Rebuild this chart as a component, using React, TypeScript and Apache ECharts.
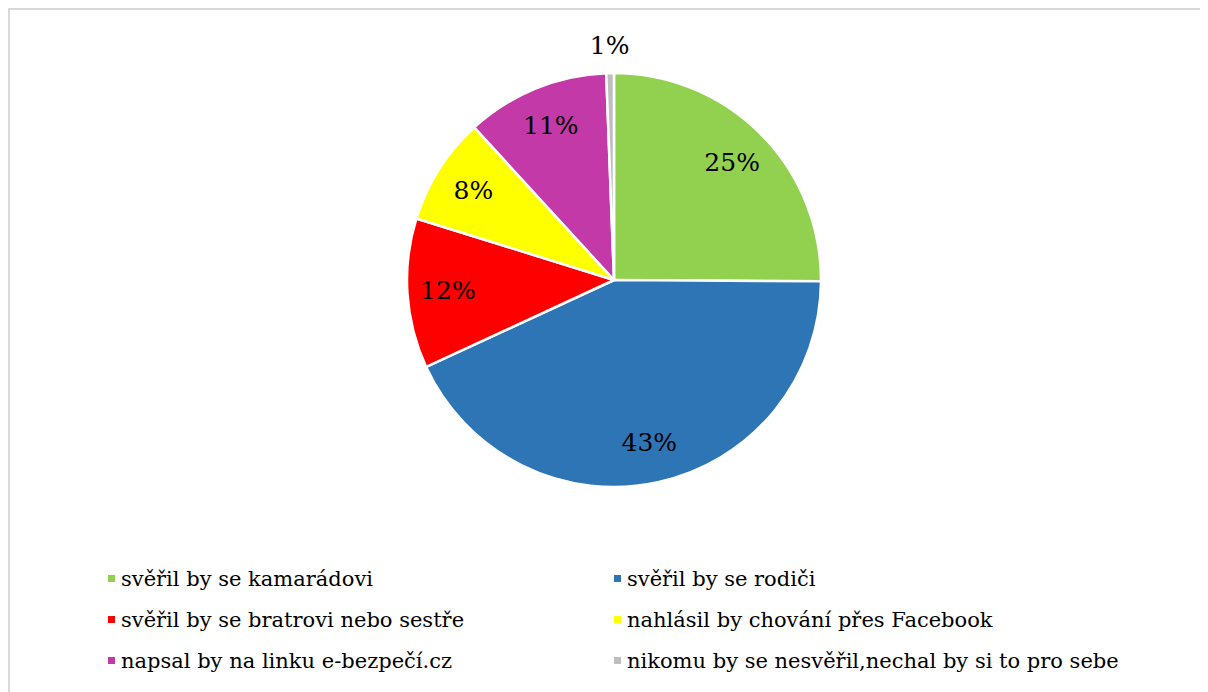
import React, { useEffect, useRef } from "react";
import * as echarts from "echarts";

const categories = [
  "svěřil by se kamarádovi",
  "svěřil by se rodiči",
  "svěřil by se bratrovi nebo sestře",
  "nahlásil by chování přes Facebook",
  "napsal by na linku e-bezpečí.cz",
  "nikomu by se nesvěřil,nechal by si to pro sebe",
];
const values = [25.1, 43.0, 11.7, 8.4, 11.2, 0.6];
const colors = ["#92d050", "#2e75b6", "#ff0000", "#ffff00", "#c339a7", "#bfbfbf"];

const FONT = "DejaVu Serif";

export default function App() {
  const ref = useRef<HTMLDivElement>(null);
  useEffect(() => {
    const chart = echarts.init(ref.current!, null, { renderer: "svg" });
    const cx = 606;
    const cy = 272;
    const R = 207;
    const baseData = categories.map((name, i) => ({
      name,
      value: values[i],
      itemStyle: { color: colors[i] },
    }));
    const fmt = (p: any) => `${Math.round(p.percent)}%`;
    const labelStyle = {
      show: true,
      position: "inside",
      formatter: fmt,
      fontFamily: FONT,
      fontSize: 25,
      color: "#000",
    };
    const legendBase = {
      orient: "vertical",
      top: 560,
      padding: 0,
      icon: "rect",
      itemWidth: 9,
      itemHeight: 9,
      itemGap: 20,
      textStyle: { fontFamily: FONT, fontSize: 21, color: "#000" },
      selectedMode: false,
    };
    chart.setOption({
      animation: false,
      graphic: [
        {
          type: "line",
          shape: { x1: 0.5, y1: 1, x2: 1300, y2: 1 },
          style: { stroke: "#d9d9d9", lineWidth: 2 },
          silent: true,
        },
        {
          type: "line",
          shape: { x1: 1, y1: 0.5, x2: 1, y2: 800 },
          style: { stroke: "#d9d9d9", lineWidth: 2 },
          silent: true,
        },
      ],
      legend: [
        { ...legendBase, left: 98, data: [categories[0], categories[2], categories[4]] },
        { ...legendBase, left: 604, data: [categories[1], categories[3], categories[5]] },
      ],
      series: [
        {
          type: "pie",
          center: [cx, cy],
          radius: [0, R],
          startAngle: 90,
          clockwise: true,
          label: { show: false },
          labelLine: { show: false },
          itemStyle: { borderColor: "#fff", borderWidth: 2.5 },
          emphasis: { disabled: true },
          data: baseData,
        },
        {
          type: "pie",
          center: [cx, cy],
          radius: [120, R],
          startAngle: 90,
          clockwise: true,
          silent: true,
          legendHoverLink: false,
          label: labelStyle,
          labelLine: { show: false },
          itemStyle: { color: "rgba(0,0,0,0)" },
          emphasis: { disabled: true },
          data: categories.map((name, i) => ({
            name: name + " ",
            value: values[i],
            label: { show: i < 5 },
          })),
        },
        {
          type: "pie",
          center: [cx, cy],
          radius: [R, R + 50],
          startAngle: 90,
          clockwise: true,
          silent: true,
          legendHoverLink: false,
          label: labelStyle,
          labelLine: { show: false },
          itemStyle: { color: "rgba(0,0,0,0)" },
          emphasis: { disabled: true },
          data: categories.map((name, i) => ({
            name: name + "  ",
            value: values[i],
            label: { show: i === 5 },
          })),
        },
      ],
    });
    return () => chart.dispose();
  }, []);
  return <div ref={ref} style={{ width: 1200, height: 684 }} />;
}
